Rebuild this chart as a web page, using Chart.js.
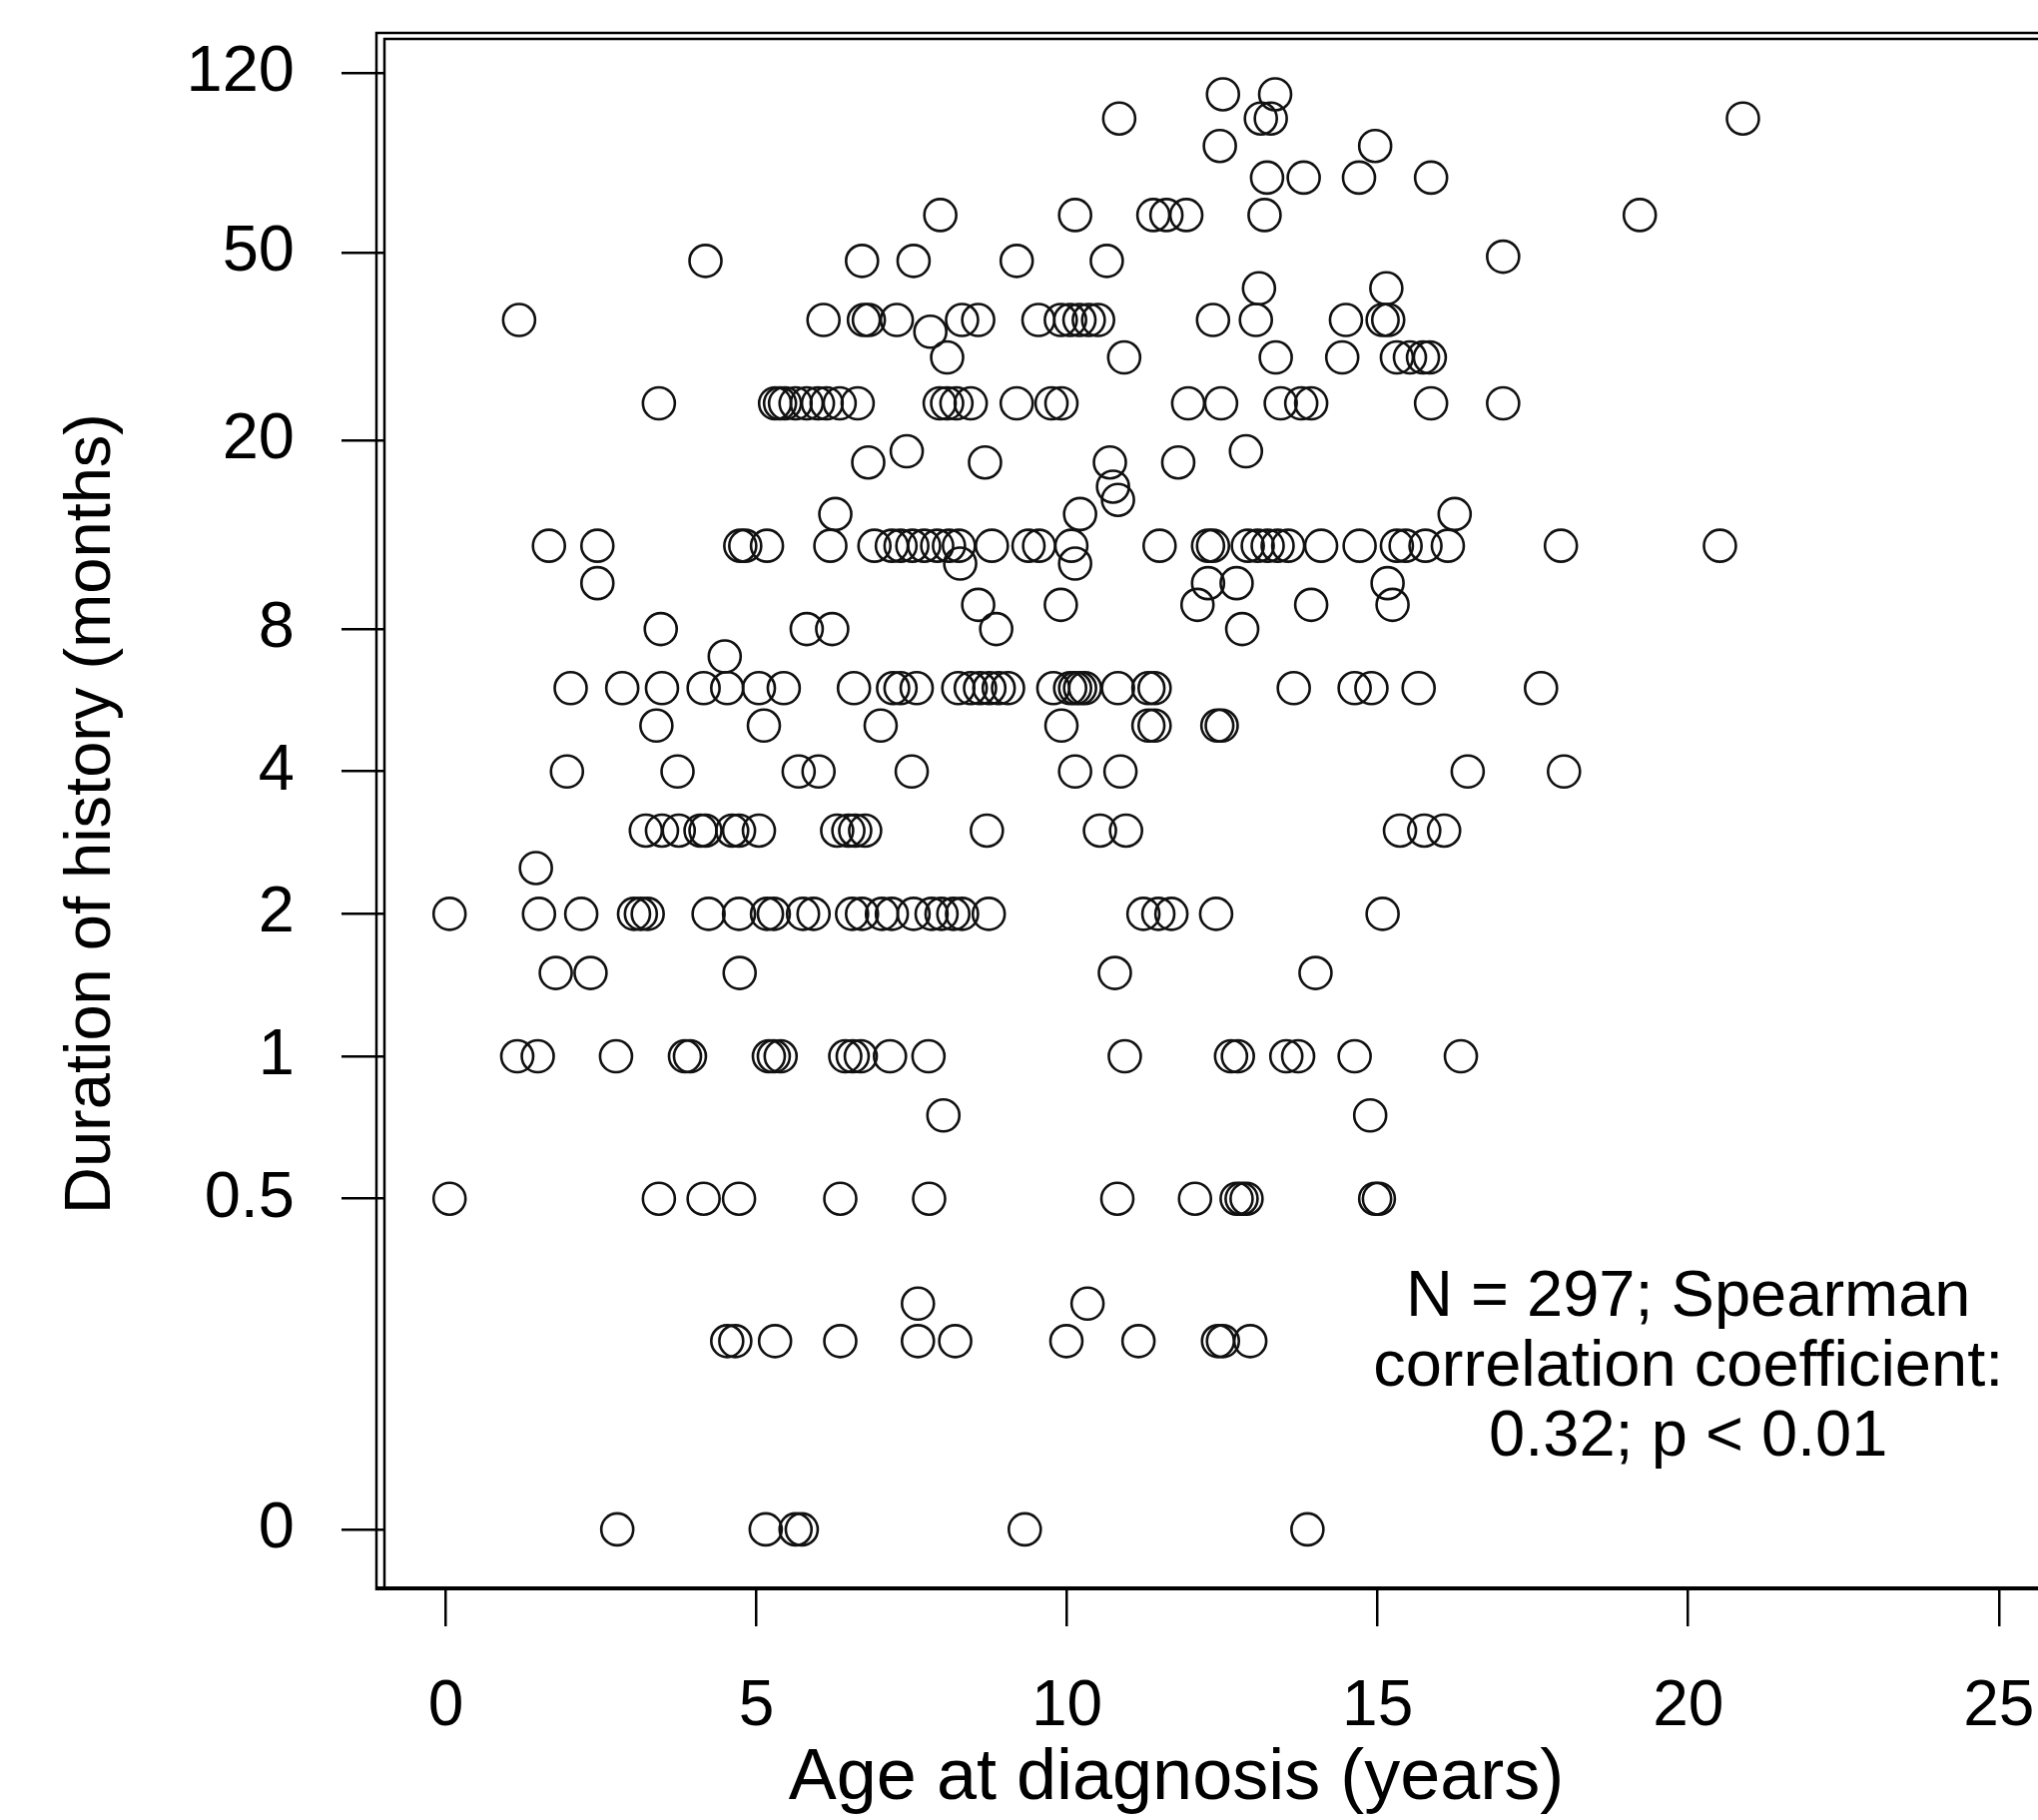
<!DOCTYPE html>
<html>
<head>
<meta charset="utf-8">
<title>Age at diagnosis vs duration of history</title>
<script src="https://cdn.jsdelivr.net/npm/chart.js@4.4.1/dist/chart.umd.min.js"></script>
<style>
  html, body { margin: 0; padding: 0; overflow: hidden; background: #fff; }
  canvas { display: block; }
</style>
</head>
<body>
<canvas id="scatter" width="2120" height="1823"></canvas>
<script>
// Duration of history (months), one entry per horizontal band of points
const durationLevels = [108, 96, 84, 72, 60, 49, 48, 42, 36, 34, 30, 24, 19, 18, 16, 15, 14, 12, 11, 10,
  9, 8, 7, 6, 5, 4, 3, 2.5, 2, 1.5, 1, 0.75, 0.5, 0.3, 0.25, 0];

// Age at diagnosis (years) of every patient in each band, same order as durationLevels
const agesByLevel = [
  [12.51, 13.35],
  [10.84, 13.12, 13.28, 20.88],
  [12.46, 14.96],
  [13.22, 13.81, 14.70, 15.86],
  [7.96, 10.13, 11.39, 11.60, 11.92, 13.18, 19.22],
  [17.02],
  [4.18, 6.70, 7.53, 9.19, 10.64],
  [13.09, 15.14],
  [1.18, 6.08, 6.73, 6.81, 7.26, 8.31, 8.57, 9.54, 9.90, 10.05, 10.20, 10.35, 10.50, 12.35, 13.04, 14.49, 15.08, 15.17],
  [7.80],
  [8.07, 10.92, 13.36, 14.43, 15.31, 15.52, 15.73, 15.84],
  [3.43, 5.30, 5.38, 5.46, 5.63, 5.81, 5.99, 6.13, 6.34, 6.63, 7.95, 8.07, 8.22, 8.45, 9.19, 9.75, 9.91,
   11.95, 12.48, 13.44, 13.77, 13.93, 15.86, 17.02],
  [7.42, 12.88],
  [6.80, 8.68, 10.69, 11.79],
  [10.74],
  [10.82],
  [6.27, 10.21, 16.24],
  [1.66, 2.44, 4.74, 4.82, 5.17, 6.19, 6.90, 7.18, 7.32, 7.51, 7.70, 7.91, 8.10, 8.26, 8.79, 9.38, 9.55,
   10.07, 11.49, 12.27, 12.35, 12.91, 13.07, 13.23, 13.39, 13.56, 14.09, 14.71, 15.31, 15.45, 15.77, 16.13,
   17.95, 20.51],
  [8.28, 10.13],
  [2.44, 12.27, 12.73, 15.16],
  [8.57, 9.90, 12.10, 13.93, 15.24],
  [3.46, 5.81, 6.22, 8.86, 12.82],
  [4.49],
  [2.01, 2.84, 3.48, 4.15, 4.53, 5.04, 5.44, 6.57, 7.20, 7.32, 7.58, 8.25, 8.45, 8.60, 8.75, 8.90, 9.05,
   9.78, 10.05, 10.13, 10.21, 10.29, 10.82, 11.31, 11.41, 13.65, 14.63, 14.90, 15.66, 17.63],
  [3.39, 5.12, 7.00, 9.91, 11.31, 11.41, 12.42, 12.49],
  [1.95, 3.73, 5.68, 6.00, 7.50, 10.13, 10.86, 16.45, 18.00],
  [3.22, 3.48, 3.75, 4.10, 4.18, 4.61, 4.72, 5.04, 6.30, 6.48, 6.59, 6.75, 8.71, 10.53, 10.95, 15.36, 15.75, 16.07],
  [1.45],
  [0.06, 1.50, 2.18, 3.03, 3.14, 3.25, 4.23, 4.72, 5.17, 5.28, 5.75, 5.92, 6.54, 6.70, 7.02, 7.18, 7.53,
   7.82, 7.98, 8.17, 8.31, 8.74, 11.23, 11.47, 11.68, 12.40, 15.08],
  [1.77, 2.33, 4.73, 10.77, 14.00],
  [1.15, 1.48, 2.74, 3.85, 3.93, 5.20, 5.28, 5.39, 6.43, 6.55, 6.68, 7.15, 7.77, 10.93, 12.64, 12.75, 13.53,
   13.72, 14.63, 16.34],
  [8.01, 14.88],
  [0.06, 3.43, 4.15, 4.72, 6.35, 7.78, 10.81, 12.06, 12.73, 12.81, 12.89, 14.96, 15.02],
  [7.60, 10.33],
  [4.53, 4.66, 5.30, 6.35, 7.60, 8.20, 9.99, 11.15, 12.43, 12.51, 12.95],
  [2.76, 5.15, 5.63, 5.73, 9.32, 13.87]
];

const xTicks = [0, 5, 10, 15, 20, 25];
const yTicks = [0, 0.5, 1, 2, 4, 8, 20, 50, 120];
const ZERO_AT = 0.1; // the log axis has no zero, so "0" sits where 0.1 would be

const noteLines = ['N = 297; Spearman', 'correlation coefficient:', '0.32; p < 0.01'];
const xTitle = 'Age at diagnosis (years)';
const yTitle = 'Duration of history (months)';

const FONT = '"Liberation Sans", Arial, Helvetica, sans-serif';

const points = [];
durationLevels.forEach((d, i) => {
  agesByLevel[i].forEach(age => points.push({ x: age, y: d === 0 ? ZERO_AT : d }));
});

// double-line frame, x title and the correlation note
const framePlugin = {
  id: 'frame',
  afterDraw(chart) {
    const { ctx, chartArea: ca, width } = chart;
    ctx.save();
    ctx.strokeStyle = '#000';
    ctx.lineWidth = 2.5;
    ctx.beginPath();
    ctx.moveTo(ca.left, ca.bottom); ctx.lineTo(ca.left, ca.top); ctx.lineTo(width, ca.top);
    ctx.moveTo(ca.left - 8, ca.bottom + 2); ctx.lineTo(ca.left - 8, ca.top - 6); ctx.lineTo(width, ca.top - 6);
    ctx.stroke();
    ctx.lineWidth = 4;
    ctx.beginPath();
    ctx.moveTo(ca.left - 9, ca.bottom); ctx.lineTo(width, ca.bottom);
    ctx.stroke();

    ctx.fillStyle = '#000';
    ctx.textAlign = 'center';
    ctx.textBaseline = 'middle';
    ctx.font = '72px ' + FONT;
    ctx.fillText(xTitle, 1178, 1782);

    ctx.font = '65px ' + FONT;
    const cx = chart.scales.x.getPixelForValue(20);
    noteLines.forEach((t, i) => ctx.fillText(t, cx, 1300 + i * 70));
    ctx.restore();
  }
};

Chart.defaults.color = '#000';
Chart.defaults.font.family = FONT;

new Chart(document.getElementById('scatter'), {
  type: 'scatter',
  data: {
    datasets: [{
      data: points,
      pointStyle: 'circle',
      pointRadius: 16,
      pointHoverRadius: 16,
      borderColor: '#111',
      borderWidth: 2.6,
      backgroundColor: 'rgba(0,0,0,0)'
    }]
  },
  options: {
    responsive: false,
    animation: false,
    devicePixelRatio: 1,
    layout: { autoPadding: false, padding: { left: 0, top: 39, right: 0, bottom: 0 } },
    plugins: { legend: { display: false }, tooltip: { enabled: false } },
    scales: {
      x: {
        type: 'linear',
        position: 'bottom',
        min: -0.988,
        max: 26.9,
        afterBuildTicks: s => { s.ticks = xTicks.map(v => ({ value: v })); },
        afterFit: s => { s.height = 232; s.paddingLeft = 0; s.paddingRight = 0; },
        grid: { drawOnChartArea: false, drawTicks: true, tickLength: 38, color: '#000', lineWidth: 2.5 },
        border: { display: false },
        ticks: { color: '#000', font: { size: 64 }, padding: 43, maxRotation: 0, autoSkip: false }
      },
      y: {
        type: 'logarithmic',
        position: 'left',
        min: 0.07504,
        max: 141.4,
        afterBuildTicks: s => { s.ticks = yTicks.map(v => ({ value: v === 0 ? ZERO_AT : v })); },
        afterFit: s => { s.width = 385; s.paddingTop = 0; s.paddingBottom = 0; },
        grid: { drawOnChartArea: false, drawTicks: true, tickLength: 43, color: '#000', lineWidth: 2.5 },
        border: { display: false },
        ticks: {
          color: '#000', font: { size: 65 }, padding: 47, autoSkip: false,
          callback: v => (v === ZERO_AT ? '0' : String(v))
        },
        title: {
          display: true, text: yTitle, color: '#000',
          font: { size: 65 }, padding: { top: 53, bottom: 0 }
        }
      }
    }
  },
  plugins: [framePlugin]
});
</script>
</body>
</html>
